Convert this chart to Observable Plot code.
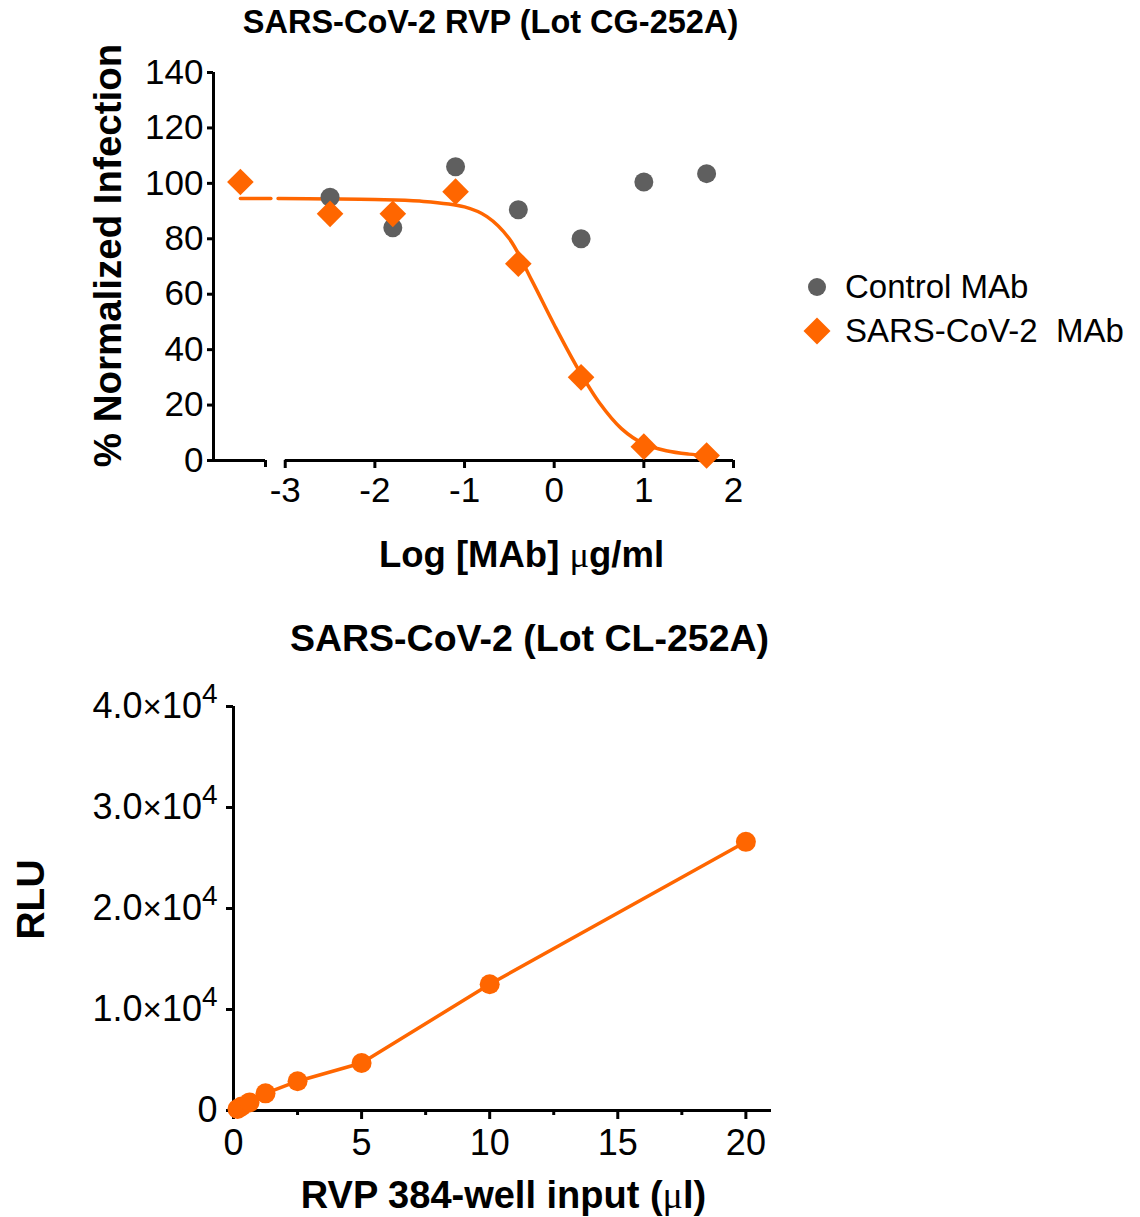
<!DOCTYPE html>
<html><head><meta charset="utf-8">
<script src="https://cdn.jsdelivr.net/npm/d3@7"></script>
<script src="https://cdn.jsdelivr.net/npm/@observablehq/plot@0.6"></script>
<style>
body{margin:0;background:#fff;font-family:"Liberation Sans",Arial,Helvetica,sans-serif;}
#wrap{position:relative;width:1140px;height:1217px;overflow:hidden;background:#fff;}
#top,#bottom{position:absolute;left:0;}
#top{top:0}
#bottom{top:600px}
#legend{position:absolute;left:800px;top:265px;font-size:33px;color:#000;}
.row{display:flex;align-items:center;height:44px;white-space:pre;}
.sym{width:34px;height:44px;display:flex;align-items:center;justify-content:center;margin-right:11px;}
</style></head><body>
<div id="wrap"><div id="top"></div><div id="legend"></div><div id="bottom"></div></div>
<script>
const ORANGE = "#FF6600", GREY = "#5F5F5F";
const FONT = '"Liberation Sans", Arial, Helvetica, sans-serif';

// ---------- Top chart data ----------
const topTitle = "SARS-CoV-2 RVP (Lot CG-252A)";
const topXLabel = "Log [MAb] μg/ml";
const topYLabel = "% Normalized Infection";
const seriesNames = ["Control MAb", "SARS-CoV-2  MAb"];
const controlLogDose = [-2.5, -1.8, -1.1, -0.4, 0.3, 1.0, 1.7];
const controlInfection = [95, 84, 106, 90.5, 80, 100.5, 103.5];
const sarsLogDose = [-3.5, -2.5, -1.8, -1.1, -0.4, 0.3, 1.0, 1.7];
const sarsInfection = [100.5, 89, 89, 97, 71, 30, 5, 1.8];
const fitLeftLogDose = [-3.5, -3.16];
const fitLeftInfection = [94.5, 94.5];
const fitLogDose = [-3.08, -2.5, -2.0, -1.5, -1.0, -0.75, -0.5, -0.25, 0, 0.25, 0.5, 0.75, 1.0, 1.25, 1.5, 1.71];
const fitInfection = [94.5, 94.4, 94.2, 93.6, 91.5, 88, 80, 65, 49, 34, 21, 11.5, 6, 3.5, 2.3, 1.8];
const topXDomain = [-3.8, 2];
const topAxisBreak = [-3.22, -3];
const topXTicks = [-3, -2, -1, 0, 1, 2];
const topYTicks = [0, 20, 40, 60, 80, 100, 120, 140];

// ---------- Bottom chart data ----------
const bottomTitle = "SARS-CoV-2 (Lot CL-252A)";
const bottomXLabel = "RVP 384-well input (μl)";
const bottomYLabel = "RLU";
const rvpInput = [0.156, 0.3125, 0.625, 1.25, 2.5, 5, 10, 20];
const rluValues = [150, 400, 800, 1700, 2900, 4700, 12500, 26600];
const bottomXDomain = [0, 21];
const bottomXTicks = [0, 5, 10, 15, 20];
const bottomXMinorTicks = [2.5, 7.5, 12.5, 17.5];
const bottomYTicks = [0, 10000, 20000, 30000, 40000];

const control = controlLogDose.map((x, i) => ({x, y: controlInfection[i]}));
const sars = sarsLogDose.map((x, i) => ({x, y: sarsInfection[i]}));
const fitLeft = fitLeftLogDose.map((x, i) => ({x, y: fitLeftInfection[i]}));
const fitRight = fitLogDose.map((x, i) => ({x, y: fitInfection[i]}));
const rvp = rvpInput.map((x, i) => ({x, y: rluValues[i]}));

const plain = d => String(d).replace("\u2212", "-");

const topPlot = Plot.plot({
  width: 760, height: 580,
  marginTop: 72, marginBottom: 120, marginLeft: 213, marginRight: 27,
  x: {domain: topXDomain, axis: null, label: null},
  y: {domain: [0, 140], axis: null, label: null},
  style: {fontFamily: FONT, fontSize: "34px", color: "#000", background: "#fff", overflow: "visible"},
  marks: [
    Plot.ruleX([topXDomain[0]], {strokeWidth: 3, stroke: "#000"}),
    Plot.ruleY([0], {x1: topXDomain[0], x2: topAxisBreak[0], strokeWidth: 3, stroke: "#000"}),
    Plot.ruleY([0], {x1: topAxisBreak[1], x2: topXDomain[1], strokeWidth: 3, stroke: "#000"}),
    Plot.axisY({ticks: topYTicks, tickSize: 6, tickPadding: 4, strokeWidth: 3, label: null, fontSize: 35, tickFormat: plain}),
    Plot.axisX({ticks: topXTicks, tickSize: 8, tickPadding: 9, strokeWidth: 3, label: null, fontSize: 35, tickFormat: plain}),
    Plot.axisX({ticks: [topAxisBreak[0]], tickSize: 7, tickFormat: () => "", strokeWidth: 3, label: null}),
    Plot.line(fitLeft, {x: "x", y: "y", stroke: ORANGE, strokeWidth: 3.5}),
    Plot.line(fitRight, {x: "x", y: "y", stroke: ORANGE, strokeWidth: 3.5, curve: "catmull-rom"}),
    Plot.dot(control, {x: "x", y: "y", r: 9.5, fill: GREY}),
    Plot.dot(sars, {x: "x", y: "y", r: 12, symbol: "diamond2", fill: ORANGE}),
    Plot.text([topTitle], {frameAnchor: "top", textAnchor: "middle", lineAnchor: "middle", dx: 17, dy: -50, fontSize: 32.5, fontWeight: "bold"}),
    Plot.text([topXLabel], {frameAnchor: "bottom", textAnchor: "middle", lineAnchor: "middle", dx: 48, dy: 95, fontSize: 36.5, fontWeight: "bold"}),
    Plot.text([topYLabel], {frameAnchor: "left", textAnchor: "middle", lineAnchor: "middle", dx: -105, dy: -11, rotate: -90, fontSize: 38.5, fontWeight: "bold"})
  ]
});
document.getElementById("top").appendChild(topPlot);

const bottomPlot = Plot.plot({
  width: 800, height: 617,
  marginTop: 106, marginBottom: 107, marginLeft: 233, marginRight: 29,
  x: {domain: bottomXDomain, axis: null, label: null},
  y: {domain: [0, 40000], axis: null, label: null},
  style: {fontFamily: FONT, fontSize: "36px", color: "#000", background: "#fff", overflow: "visible"},
  marks: [
    Plot.ruleX([0], {strokeWidth: 3, stroke: "#000"}),
    Plot.ruleY([0], {strokeWidth: 3, stroke: "#000"}),
    Plot.axisY({ticks: bottomYTicks, tickSize: 7, tickPadding: 9, strokeWidth: 3, label: null, fontSize: 36,
      tickFormat: d => d === 0 ? "0" : (d / 1e4).toFixed(1) + "×10^4"}),
    Plot.axisX({ticks: bottomXTicks, tickSize: 9, tickPadding: 10, strokeWidth: 3, label: null, fontSize: 36, tickFormat: plain}),
    Plot.axisX({ticks: bottomXMinorTicks, tickSize: 5, tickFormat: () => "", strokeWidth: 3, label: null}),
    Plot.line(rvp, {x: "x", y: "y", stroke: ORANGE, strokeWidth: 3.5}),
    Plot.dot(rvp, {x: "x", y: "y", r: 10, fill: ORANGE}),
    Plot.text([bottomTitle], {frameAnchor: "top", textAnchor: "middle", lineAnchor: "middle", dx: 27, dy: -68, fontSize: 37.5, fontWeight: "bold"}),
    Plot.text([bottomXLabel], {frameAnchor: "bottom", textAnchor: "middle", lineAnchor: "middle", dx: 1, dy: 85, fontSize: 38, fontWeight: "bold"}),
    Plot.text([bottomYLabel], {frameAnchor: "left", textAnchor: "middle", lineAnchor: "middle", dx: -202, dy: -9, rotate: -90, fontSize: 39, fontWeight: "bold"})
  ]
});
document.getElementById("bottom").appendChild(bottomPlot);

// post-process: mu in serif, superscript exponents
const NS = "http://www.w3.org/2000/svg";
function tspan(parent, txt, attrs) {
  const t = document.createElementNS(NS, "tspan");
  t.textContent = txt;
  for (const k in attrs) t.setAttribute(k, attrs[k]);
  parent.appendChild(t);
  return t;
}
document.querySelectorAll("svg text").forEach(t => {
  if (t.querySelector("tspan")) return;
  const s = t.textContent;
  const m = s.match(/^(.*)×10\^(\d+)$/);
  if (m) {
    t.textContent = "";
    tspan(t, m[1], {});
    tspan(t, "×", {"font-size": "33"});
    tspan(t, "10", {});
    tspan(t, m[2], {"font-size": "28", "dy": "-15"});
    return;
  }
  if (s.includes("μ")) {
    const parts = s.split("μ");
    t.textContent = "";
    tspan(t, parts[0], {});
    tspan(t, "μ", {"font-family": '"Liberation Serif", "DejaVu Serif", serif', "font-weight": "normal"});
    tspan(t, parts[1], {});
  }
});

// legend
const legend = document.getElementById("legend");
const symbols = [
  `<svg width="30" height="30" viewBox="-15 -15 30 30"><circle r="9" fill="${GREY}"/></svg>`,
  `<svg width="30" height="30" viewBox="-15 -15 30 30"><polygon points="0,-13.5 13.5,0 0,13.5 -13.5,0" fill="${ORANGE}"/></svg>`
];
seriesNames.forEach((name, i) => {
  const row = document.createElement("div");
  row.className = "row";
  row.innerHTML = `<span class="sym">${symbols[i]}</span><span></span>`;
  row.lastChild.textContent = name;
  legend.appendChild(row);
});
</script></body></html>
